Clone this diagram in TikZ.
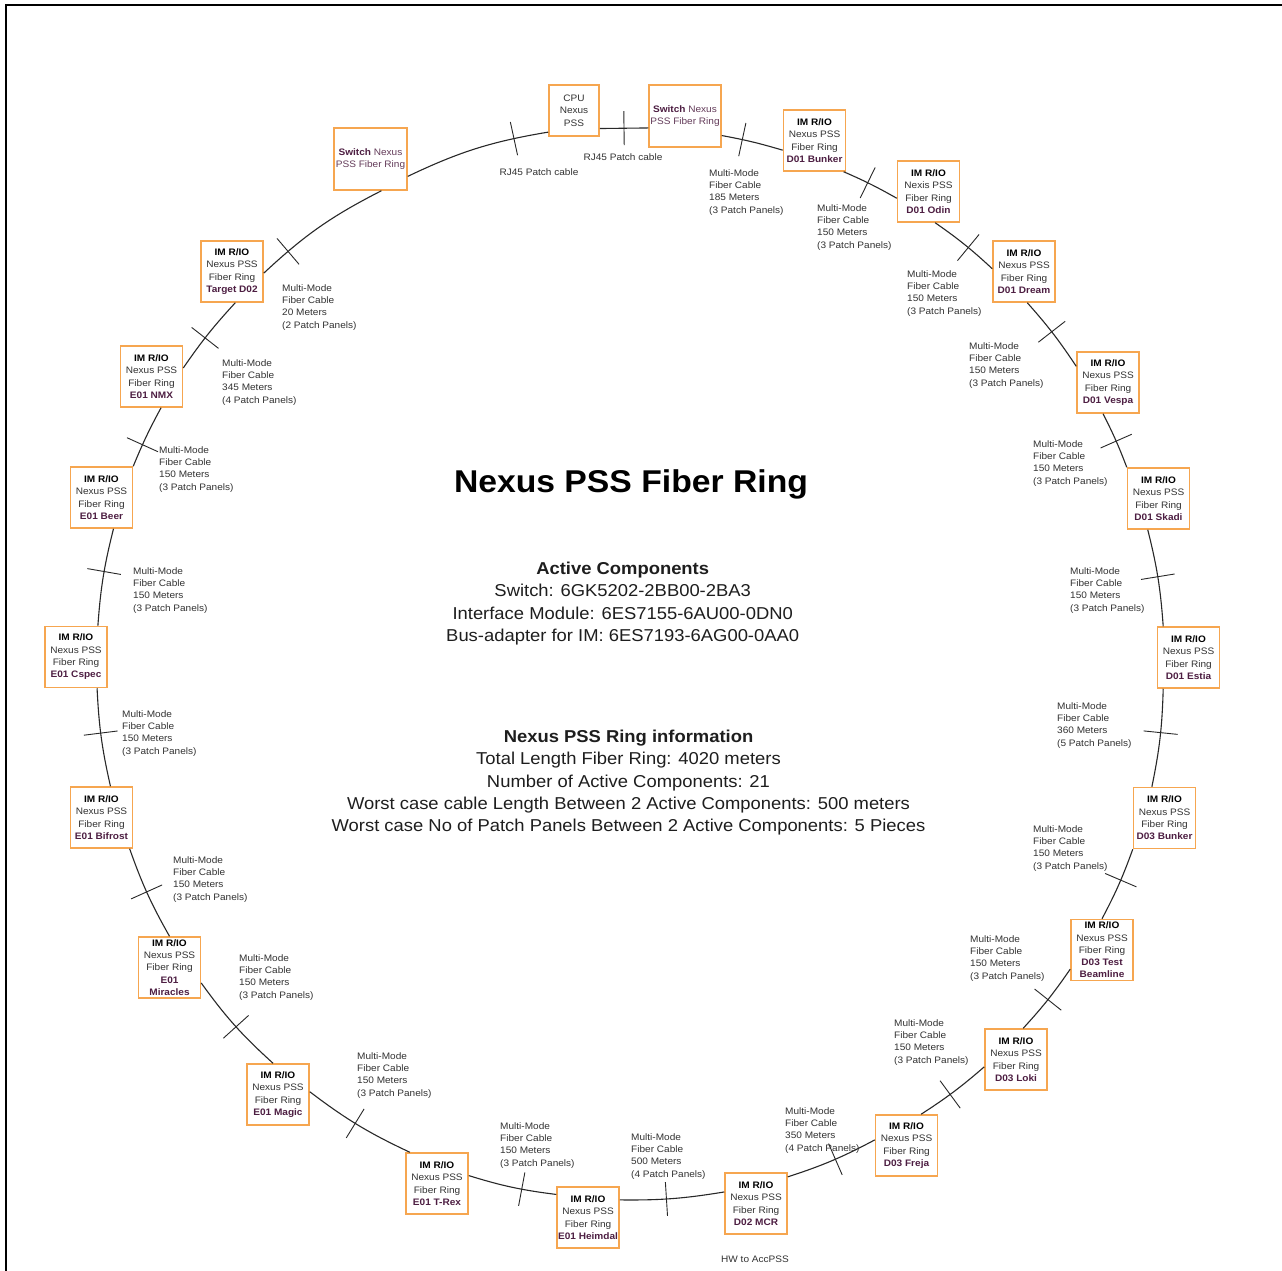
\documentclass[tikz,border=0pt]{standalone}
\usepackage{fontspec}
\setmainfont{Liberation Sans}[FakeStretch=1.07]
\definecolor{boxorange}{RGB}{246,166,80}
\definecolor{txtgray}{RGB}{51,51,51}
\definecolor{namecol}{RGB}{77,30,66}
\definecolor{swcol}{RGB}{100,60,90}
\definecolor{linegray}{RGB}{40,40,40}
\newcommand\imtxt[1]{\textbf{\color{black}IM R/IO}\\Nexus PSS\\Fiber Ring\\\textbf{\color{namecol}#1}}
\newcommand\mmtxt[2]{Multi-Mode\\Fiber Cable\\#1 Meters\\(#2 Patch Panels)}
\newcommand\swtxt{\textbf{\color{namecol}Switch} {\color{swcol}Nexus}\\{\color{swcol}PSS Fiber Ring}}
\begin{document}
\begin{tikzpicture}[x=1pt,y=1pt,
  box/.style={draw=boxorange, line width=1.5pt, fill=white, minimum width=62pt, minimum height=61pt, inner sep=0pt, align=center, font=\fontsize{9.4}{12.3}\selectfont, text=txtgray},
  ring/.style={draw=linegray, line width=1.1pt},
  tk/.style={sloped, draw=linegray, line width=0.9pt, minimum width=0pt, minimum height=34pt, inner sep=0pt, outer sep=0pt},
  lbl/.style={anchor=north west, align=left, inner sep=0pt, font=\fontsize{9.4}{12.2}\selectfont, text=txtgray},
  rj/.style={inner sep=0pt, font=\fontsize{9.4}{12.2}\selectfont, text=txtgray},
  ctr/.style={align=center, inner sep=0pt, text={rgb,255:red,30;green,30;blue,30}}
]
\useasboundingbox (0,0) rectangle (1282,-1271);
\fill[white] (0,0) rectangle (1282,-1271);
\draw[line width=2pt, black] (6,-1271) -- (6,-5) -- (1282,-5);

% boxes
\node[box, minimum width=50pt, minimum height=51pt] (cpu) at (574,-110.5) {CPU\\Nexus\\PSS};
\node[box, minimum width=72pt, minimum height=62pt] (swt) at (685,-116) {\swtxt};
\node[box, minimum width=73pt, minimum height=62pt] (swl) at (370.5,-159) {\swtxt};
\node[box] (b1) at (814.5,-140.5) {\imtxt{D01 Bunker}};
\node[box] (odin) at (928.5,-191.5) {\textbf{\color{black}IM R/IO}\\Nexis PSS\\Fiber Ring\\\textbf{\color{namecol}D01 Odin}};
\node[box] (dream) at (1024,-271.5) {\imtxt{D01 Dream}};
\node[box] (vespa) at (1108,-382.5) {\imtxt{D01 Vespa}};
\node[box] (skadi) at (1158.5,-498.5) {\imtxt{D01 Skadi}};
\node[box] (estia) at (1188.5,-657.5) {\imtxt{D01 Estia}};
\node[box] (d3b) at (1164.5,-818) {\imtxt{D03 Bunker}};
\node[box] (test) at (1102,-950) {\textbf{\color{black}IM R/IO}\\Nexus PSS\\Fiber Ring\\\textbf{\color{namecol}D03 Test}\\\textbf{\color{namecol}Beamline}};
\node[box] (loki) at (1016,-1059.5) {\imtxt{D03 Loki}};
\node[box] (freja) at (906.5,-1145.5) {\imtxt{D03 Freja}};
\node[box] (mcr) at (756,-1203.5) {\imtxt{D02 MCR}};
\node[box] (heim) at (588,-1217.5) {\imtxt{E01 Heimdal}};
\node[box] (trex) at (437,-1183.5) {\imtxt{E01 T-Rex}};
\node[box] (magic) at (278,-1094.5) {\imtxt{E01 Magic}};
\node[box] (mir) at (169.5,-967.5) {\textbf{\color{black}IM R/IO}\\Nexus PSS\\Fiber Ring\\\textbf{\color{namecol}E01}\\\textbf{\color{namecol}Miracles}};
\node[box] (bif) at (101.5,-817.5) {\imtxt{E01 Bifrost}};
\node[box] (cspec) at (76,-657) {\imtxt{E01 Cspec}};
\node[box] (beer) at (101.5,-497.5) {\imtxt{E01 Beer}};
\node[box] (nmx) at (151.5,-376.5) {\imtxt{E01 NMX}};
\node[box] (tgt) at (232,-271.5) {\imtxt{Target D02}};

% ring connectors
\draw[ring] (swl.-25) to[bend left=8] node[tk,pos=.78]{} (cpu.220);
\draw[ring] (cpu.-35) -- node[tk,pos=.5]{} (swt.198);
\draw[ring] (swt.-28) to[bend left=3] node[tk,pos=.32]{} (b1.197);
\draw[ring] (b1.-47) to[bend left=3] node[tk,pos=.44]{} (odin.192);
\draw[ring] (odin.-78) to[bend left=4] node[tk,pos=.57]{} (dream.175);
\draw[ring] (dream.-84) to[bend left=4] node[tk,pos=.47]{} (vespa.153);
\draw[ring] (vespa.-99) to[bend left=3] node[tk,pos=.52]{} (skadi.north west);
\draw[ring] (skadi.-109) to[bend left=5] node[tk,pos=.49]{} (estia.129);
\draw[ring] (estia.-129) to[bend left=5] node[tk,pos=.44]{} (d3b.112);
\draw[ring] (d3b.south west) to[bend left=4] node[tk,pos=.43]{} (test.north);
\draw[ring] (test.211) to[bend left=4] node[tk,pos=.5]{} (loki.77);
\draw[ring] (loki.193) to[bend left=4] node[tk,pos=.56]{} (freja.65);
\draw[ring] (freja.170) to[bend left=5] node[tk,pos=.46]{} (mcr.40);
\draw[ring] (mcr.160) to[bend left=5] node[tk,pos=.56]{} (heim.29);
\draw[ring] (heim.144) to[bend left=5] node[tk,pos=.38]{} (trex.14);
\draw[ring] (trex.131) to[bend left=6] node[tk,pos=.53]{} (magic.5);
\draw[ring] (magic.99) to[bend left=6] node[tk,pos=.48]{} (mir.-26);
\draw[ring] (mir.north) to[bend left=5] node[tk,pos=.52]{} (bif.-48);
\draw[ring] (bif.74) to[bend left=5] node[tk,pos=.55]{} (cspec.-56);
\draw[ring] (cspec.55) to[bend left=5] node[tk,pos=.56]{} (beer.-69);
\draw[ring] (beer.north east) to[bend left=3] node[tk,pos=.35]{} (nmx.-73);
\draw[ring] (nmx.15) to[bend left=4] node[tk,pos=.44]{} (tgt.-84);
\draw[ring] (tgt.-3) to[bend left=8] node[tk,pos=.21]{} (swl.-71);

% cable labels
\node[rj] (l1) at (539,-172) {RJ45 Patch cable};
\node[rj] (l2) at (623,-157) {RJ45 Patch cable};
\node[lbl] (l3) at (709,-169.5) {\mmtxt{185}{3}};
\node[lbl] (l4) at (817,-204.5) {\mmtxt{150}{3}};
\node[lbl] (l5) at (907,-270.5) {\mmtxt{150}{3}};
\node[lbl] (l6) at (969,-342.5) {\mmtxt{150}{3}};
\node[lbl] (l7) at (1033,-440.5) {\mmtxt{150}{3}};
\node[lbl] (l8) at (1070,-567.5) {\mmtxt{150}{3}};
\node[lbl] (l9) at (1057,-702.5) {\mmtxt{360}{5}};
\node[lbl] (l10) at (1033,-825.5) {\mmtxt{150}{3}};
\node[lbl] (l11) at (970,-935.5) {\mmtxt{150}{3}};
\node[lbl] (l12) at (894,-1019.5) {\mmtxt{150}{3}};
\node[lbl] (l13) at (785,-1107.5) {\mmtxt{350}{4}};
\node[lbl] (l14) at (631,-1133.5) {\mmtxt{500}{4}};
\node[lbl] (l15) at (500,-1122.5) {\mmtxt{150}{3}};
\node[lbl] (l16) at (357,-1052.5) {\mmtxt{150}{3}};
\node[lbl] (l17) at (239,-954.5) {\mmtxt{150}{3}};
\node[lbl] (l18) at (173,-856.5) {\mmtxt{150}{3}};
\node[lbl] (l19) at (122,-710.5) {\mmtxt{150}{3}};
\node[lbl] (l20) at (133,-567.5) {\mmtxt{150}{3}};
\node[lbl] (l21) at (159,-446.5) {\mmtxt{150}{3}};
\node[lbl] (l22) at (222,-359.5) {\mmtxt{345}{4}};
\node[lbl] (l23) at (282,-284.5) {\mmtxt{20}{2}};
\node[rj] (hw) at (755,-1259) {HW to AccPSS};

% centre texts
\node[ctr, anchor=base, font=\fontsize{31.5}{36}\selectfont\bfseries, text=black] (title) at (631,-492.7) {Nexus PSS Fiber Ring};
\node[ctr, anchor=north, font=\fontsize{17.2}{22.3}\selectfont] (act) at (622.7,-561.8) {\textbf{Active Components}\\Switch: 6GK5202-2BB00-2BA3\\Interface Module: 6ES7155-6AU00-0DN0\\Bus-adapter for IM: 6ES7193-6AG00-0AA0};
\node[ctr, anchor=north, font=\fontsize{17.2}{22.3}\selectfont] (info) at (628.5,-729.8) {\textbf{Nexus PSS Ring information}\\Total Length Fiber Ring: 4020 meters\\Number of Active Components: 21\\Worst case cable Length Between 2 Active Components: 500 meters\\Worst case No of Patch Panels Between 2 Active Components: 5 Pieces};
\end{tikzpicture}
\end{document}
